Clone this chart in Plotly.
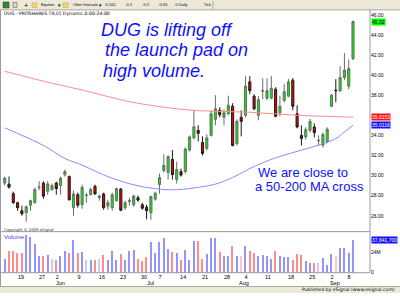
import plotly.graph_objects as go

W, H = 400, 296

# ---------------- data ----------------
opens = [29.25, 29.16, 28.2, 27.3, 26.5, 26.3, 27.05, 27.3, 28.8, 29.25,
         28.44, 28.6, 29.25, 29.0, 30.07, 29.9, 26.8, 28.1, 27.1, 28.0,
         28.1, 28.93, 27.8, 28.17, 26.96, 26.8, 27.5, 28.66, 26.8, 27.4,
         27.1, 27.8, 27.1, 26.85, 26.3, 27.65, 29.1, 30.5, 30.3, 31.6,
         29.6, 30.4, 30.4, 32.55, 33.75, 34.5, 33.3, 32.7, 34.0, 35.6,
         36.5, 35.8, 36.15, 36.9, 33.2, 35.8, 36.0, 39.33, 37.9, 36.0,
         38.4, 37.7, 37.7, 38.6, 36.25, 37.46, 37.9, 39.5, 36.15, 34.0,
         33.85, 34.5, 34.84, 33.45, 33.03, 33.4, 36.9, 38.5, 38.45, 39.76,
         38.9, 41.64]
highs = [29.9, 29.9, 28.4, 27.4, 27.0, 27.0, 27.6, 28.8, 29.45, 29.45,
         29.45, 29.2, 29.4, 29.9, 30.6, 30.0, 28.5, 28.3, 29.1, 28.27,
         28.8, 29.1, 28.1, 28.3, 27.6, 28.3, 28.8, 28.75, 27.5, 27.8,
         28.1, 28.0, 27.3, 27.1, 28.0, 28.4, 30.2, 32.1, 32.0, 32.55,
         31.4, 30.7, 32.8, 34.0, 36.5, 35.0, 33.9, 34.1, 36.5, 38.0,
         36.8, 36.6, 37.95, 37.2, 35.6, 36.5, 39.9, 39.9, 38.1, 37.9,
         39.67, 39.67, 39.9, 38.8, 37.95, 39.1, 39.6, 39.7, 37.0, 35.0,
         34.8, 35.65, 35.2, 34.0, 34.3, 34.8, 38.1, 39.6, 40.9, 42.2,
         41.55, 45.44]
lows = [29.0, 28.7, 27.2, 26.5, 26.0, 25.4, 26.5, 27.2, 28.55, 27.7,
        28.1, 28.5, 28.1, 28.1, 29.9, 27.5, 26.0, 26.8, 26.7, 27.3,
        28.0, 28.1, 27.5, 26.6, 26.6, 26.5, 27.4, 26.45, 26.6, 27.0,
        26.9, 27.4, 26.6, 25.65, 25.6, 27.5, 28.2, 30.3, 29.6, 29.6,
        29.2, 29.9, 30.2, 32.4, 33.6, 33.4, 32.0, 32.5, 33.9, 35.0,
        35.8, 35.0, 36.0, 32.9, 33.0, 33.9, 35.8, 38.1, 36.5, 35.5,
        37.6, 37.5, 37.6, 35.8, 35.9, 37.3, 37.8, 36.5, 34.7, 33.0,
        33.6, 34.3, 33.8, 33.0, 32.8, 33.2, 36.8, 37.3, 38.3, 39.5,
        38.6, 41.5]
closes = [29.74, 28.85, 27.3, 26.8, 26.2, 26.9, 27.5, 28.6, 28.85, 27.95,
          29.16, 29.0, 28.7, 29.74, 30.4, 27.6, 28.17, 27.05, 28.83, 28.05,
          28.6, 28.17, 27.95, 26.8, 27.3, 28.1, 28.7, 26.55, 27.3, 27.5,
          27.96, 27.55, 26.75, 26.5, 27.9, 28.25, 29.8, 31.0, 31.9, 30.1,
          30.6, 30.05, 32.65, 33.85, 34.85, 34.2, 32.2, 33.75, 36.15, 36.65,
          36.05, 36.25, 37.0, 33.0, 35.4, 35.4, 38.9, 38.45, 36.65, 37.55,
          38.45, 38.45, 38.7, 35.9, 36.9, 38.35, 39.33, 36.9, 34.84, 33.7,
          34.57, 35.4, 34.28, 33.5, 34.08, 34.6, 38.0, 38.45, 39.76, 40.5,
          40.65, 45.32]
volumes_m = [16.3, 25.1, 25.1, 23.1, 23.1, 44.1, 41.8, 33.4, 19.4, 20.2,
             21.3, 16.3, 15.6, 20.2, 25.1, 23.1, 38.4, 22.8, 24.7, 15.2,
             15.2, 14.5, 16.3, 21.3, 15.6, 25.1, 15.6, 22.0, 15.6, 25.1,
             27.0, 16.3, 13.7, 19.0, 35.3, 23.1, 35.3, 39.9, 27.7, 24.7,
             22.8, 15.6, 27.0, 15.6, 36.5, 37.3, 16.3, 22.0, 39.9, 40.2,
             24.7, 20.2, 20.2, 31.6, 20.2, 20.2, 30.8, 25.1, 22.8, 20.2,
             20.9, 20.2, 16.0, 25.1, 20.2, 18.2, 18.2, 15.6, 21.7, 20.9,
             13.7, 11.7, 11.7, 11.7, 17.1, 9.5, 22.0, 20.2, 28.8, 28.8,
             22.8, 37.6417]

# moving averages read at a few bars
ma50_bars = [0, 9, 14, 18, 22, 25, 30, 35, 40, 45, 49, 53, 57, 61, 64, 69, 73, 77, 79, 81]
ma50_vals = [34.75, 33.0, 31.7, 31.05, 30.25, 29.74, 29.08, 28.69, 28.59, 28.83,
             29.15, 29.8, 30.7, 31.45, 31.9, 32.53, 33.03, 33.68, 34.34, 35.0116]
ma200_bars = [0, 9, 18, 29, 37, 44, 57, 68, 81]
ma200_vals = [40.38, 39.4, 38.51, 37.36, 36.81, 36.49, 36.3, 36.0, 35.8153]

# the 36.00 label is hidden behind the MA tags in the reference
price_ticks = [26, 28, 30, 32, 34, 38, 40, 42, 44, 46]
date_tick_bars = [3.8, 8.7, 12.2, 17.3, 22.6, 27.5, 32.4, 36.1, 41.5, 46.6,
                  51.7, 56.1, 61.2, 66.6, 71.5, 76.1, 80.1]
date_tick_labels = ["19", "27", "2", "9", "16", "23", "30", "7", "14", "21",
                    "28", "4", "11", "18", "25", "2", "8"]
month_bars = [12.9, 33.8, 55.7, 76.8]
month_labels = ["Jun", "Jul", "Aug", "Sep"]

# ---------------- helpers ----------------
def px(x):
    return x / W

def py(y):
    return 1 - y / H

n = len(closes)
idx = list(range(n))
volumes = [v * 1e6 for v in volumes_m]

vol_colors = []
for i in range(n):
    up = closes[i] >= opens[i]
    prev = closes[i - 1] if i > 0 else opens[i]
    agree = (closes[i] >= prev) == up
    if up:
        vol_colors.append('#9494ff' if agree else '#cacaff')
    else:
        vol_colors.append('#ff8c8c' if agree else '#ffc6c6')

fig = go.Figure()

fig.add_trace(go.Scatter(x=ma200_bars, y=ma200_vals, mode='lines',
                         line=dict(color='#ff8c8c', width=1, shape='spline', smoothing=1),
                         xaxis='x', yaxis='y', hoverinfo='skip'))
fig.add_trace(go.Scatter(x=ma50_bars, y=ma50_vals, mode='lines',
                         line=dict(color='#8a8aff', width=1, shape='spline', smoothing=1),
                         xaxis='x', yaxis='y', hoverinfo='skip'))

fig.add_trace(go.Candlestick(
    x=idx, open=opens, high=highs, low=lows, close=closes,
    increasing=dict(line=dict(color='#6a6a6a', width=1), fillcolor='#00ee00'),
    decreasing=dict(line=dict(color='#1a1a1a', width=1), fillcolor='#e80000'),
    whiskerwidth=0, xaxis='x', yaxis='y', hoverinfo='skip'))

fig.add_trace(go.Bar(x=idx, y=volumes, width=0.32, marker=dict(color=vol_colors, line=dict(width=0)),
                     xaxis='x2', yaxis='y2', hoverinfo='skip'))

xr = [-0.86, 84.95]
tiny = dict(family='Liberation Sans', size=5, color='black')

fig.update_layout(
    width=W, height=H, autosize=False,
    margin=dict(l=0, r=0, t=0, b=0),
    paper_bgcolor='white', plot_bgcolor='white',
    showlegend=False, bargap=0,
    xaxis=dict(domain=[px(1), px(370)], range=xr, anchor='y', showticklabels=False,
               showgrid=False, zeroline=False, rangeslider=dict(visible=False), fixedrange=True),
    yaxis=dict(domain=[py(234), py(10)], range=[24.42, 46.49], anchor='x', side='right',
               tickvals=price_ticks, ticktext=[f"{v:.2f}" for v in price_ticks],
               tickfont=tiny, showgrid=False, zeroline=False, ticks='', fixedrange=True),
    xaxis2=dict(domain=[px(1), px(370)], range=xr, anchor='y2',
                tickvals=date_tick_bars, ticktext=date_tick_labels, tickfont=dict(tiny, size=5.5),
                showgrid=False, zeroline=False, ticks='', fixedrange=True),
    yaxis2=dict(domain=[py(275.5), py(234)], range=[0, 47.3e6], anchor='x2', side='right',
                tickvals=[0, 24e6], ticktext=['0', '24M'], tickfont=tiny,
                showgrid=False, zeroline=False, ticks='', fixedrange=True),
)

shapes = []
# toolbar
shapes.append(dict(type='rect', xref='paper', yref='paper', x0=0, x1=1, y0=py(10), y1=1,
                   fillcolor='#ece9d8', line=dict(width=0), layer='above'))
shapes.append(dict(type='line', xref='paper', yref='paper', x0=0, x1=1, y0=py(10), y1=py(10),
                   line=dict(color='#aca899', width=1), layer='above'))
shapes.append(dict(type='line', xref='paper', yref='paper', x0=px(213), x1=px(213), y0=py(1), y1=py(9),
                   line=dict(color='#aca899', width=1), layer='above'))
# footer
shapes.append(dict(type='rect', xref='paper', yref='paper', x0=0, x1=1, y0=0, y1=py(289.5),
                   fillcolor='#ece9d8', line=dict(width=0), layer='above'))
shapes.append(dict(type='line', xref='paper', yref='paper', x0=0, x1=1, y0=py(289.5), y1=py(289.5),
                   line=dict(color='#aca899', width=1), layer='above'))
# panel borders
for yy in (234, 275.5):
    shapes.append(dict(type='line', xref='paper', yref='paper', x0=0, x1=px(370), y0=py(yy), y1=py(yy),
                       line=dict(color='#9a9a9a', width=1), layer='above'))
shapes.append(dict(type='line', xref='paper', yref='paper', x0=px(370), x1=px(370), y0=py(275.5), y1=py(10),
                   line=dict(color='#9a9a9a', width=1), layer='above'))
shapes.append(dict(type='line', xref='paper', yref='paper', x0=px(0.5), x1=px(0.5), y0=py(289.5), y1=py(10),
                   line=dict(color='#9a9a9a', width=1), layer='above'))
# toolbar icons
shapes.append(dict(type='rect', xref='paper', yref='paper', x0=px(3), x1=px(9), y0=py(8), y1=py(2),
                   fillcolor='#2e8b2e', line=dict(color='#303030', width=0.5), layer='above'))
shapes.append(dict(type='rect', xref='paper', yref='paper', x0=px(13), x1=px(17), y0=py(7.5), y1=py(2.5),
                   fillcolor='#d8d8d8', line=dict(color='#505050', width=0.5), layer='above'))
for fx in (32, 63):
    shapes.append(dict(type='rect', xref='paper', yref='paper', x0=px(fx), x1=px(fx + 5), y0=py(7.5), y1=py(3),
                       fillcolor='#f5d77a', line=dict(color='#b89a3c', width=0.5), layer='above'))
fig.update_layout(shapes=shapes)

ann = []
def txt(x, y, s, size=5, color='black', xanchor='left', family='Liberation Sans', **kw):
    ann.append(dict(xref='paper', yref='paper', x=px(x), y=py(y), text=s, showarrow=False,
                    xanchor=xanchor, yanchor='middle', font=dict(family=family, size=size, color=color), **kw))

# toolbar text
txt(21.5, 5.3, '+', size=7)
txt(38.5, 5.5, 'Equities', size=3.8)
txt(56, 5.5, '▾', size=4.5)
txt(70.5, 5.5, 'Other Intervals', size=3.8)
txt(97, 5.5, '▾', size=4.5)
txt(103, 5.5, '⊙ 10C', size=3.8)
txt(124, 5.5, '⊙ 1', size=3.8)
txt(141, 5.5, '⊙ 5', size=3.8)
txt(157, 5.5, '⊙ 60', size=3.8)
txt(172.5, 5.5, '⊙ Daily', size=3.8)
txt(201.5, 5.5, 'Tick', size=3.8)
# title line
txt(1.5, 13.5, 'DUG - PROSHARES TR,D] Dynamic,0:00-24:00', size=4.6, family='DejaVu Sans')
# copyright / volume / footer
txt(2, 231.5, 'Copyright © 2009 eSignal', size=3.8, color='#333333', family='DejaVu Sans')
txt(1.5, 239.5, 'Volume', size=6, color='#3a3aff')
txt(397, 292.8, 'Published by eSignal (www.esignal.com)', size=4.6, xanchor='right', family='DejaVu Sans')

# commentary
blue = '#1010ff'
txt(99, 30, '<i>DUG is lifting off</i>', size=18, color=blue)
txt(103, 51, '<i>the launch pad on</i>', size=18, color=blue)
txt(100.5, 72, '<i>high volume.</i>', size=18, color=blue)
txt(256, 174, 'We are close to', size=13, color=blue)
txt(253, 188, 'a 50-200 MA cross', size=13, color=blue)

# month labels under date ticks
for b, m in zip(month_bars, month_labels):
    ann.append(dict(xref='x2', yref='paper', x=b, y=py(286), text=m, showarrow=False,
                    xanchor='center', yanchor='middle', font=dict(family='Liberation Sans', size=5.5, color='black')))

# highlighted last values on the right axis
def tag(yref, yval, s, bg, fg):
    ann.append(dict(xref='paper', yref=yref, x=px(370.5), y=yval, text=s, showarrow=False,
                    xanchor='left', yanchor='middle', bgcolor=bg, borderpad=0,
                    font=dict(family='Liberation Sans', size=5, color=fg)))

tag('y', closes[-1], f"{closes[-1]:.2f}", '#00ff00', 'black')
tag('y', ma200_vals[-1], f"{ma200_vals[-1]:.4f}", '#ff1010', 'white')
tag('y', ma50_vals[-1], f"{ma50_vals[-1]:.4f}", '#1010ff', 'white')
tag('y2', volumes[-1], f"{round(volumes[-1]):,}", '#1010ff', 'white')

fig.update_layout(annotations=ann)

fig.write_html("out.html")
